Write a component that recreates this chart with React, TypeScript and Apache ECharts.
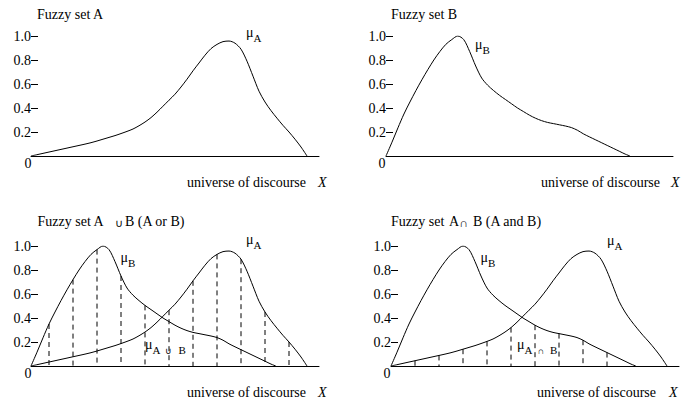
import { useEffect, useRef } from 'react';
import * as echarts from 'echarts';

// Membership functions sampled along the universe of discourse (x, μ)
const muA: [number, number][] = [
  [0, 0], [0.25, 0.011], [0.5, 0.022], [0.75, 0.033], [1, 0.044], [1.25, 0.055],
  [1.5, 0.066], [1.75, 0.077], [2, 0.088], [2.25, 0.099], [2.5, 0.111], [2.75, 0.125],
  [3, 0.14], [3.25, 0.155], [3.5, 0.17], [3.75, 0.187], [4, 0.205], [4.25, 0.225],
  [4.5, 0.252], [4.75, 0.283], [5, 0.32], [5.25, 0.365], [5.5, 0.415], [5.75, 0.465],
  [6, 0.515], [6.25, 0.575], [6.5, 0.64], [6.75, 0.71], [7, 0.775], [7.25, 0.84],
  [7.5, 0.895], [7.75, 0.93], [8, 0.953], [8.25, 0.958], [8.5, 0.94], [8.75, 0.89],
  [9, 0.79], [9.25, 0.665], [9.5, 0.54], [9.75, 0.45], [10, 0.378], [10.25, 0.315],
  [10.5, 0.255], [10.75, 0.2], [11, 0.14], [11.25, 0.075], [11.5, 0],
];

const muB: [number, number][] = [
  [0, 0], [0.25, 0.115], [0.5, 0.235], [0.75, 0.35], [1, 0.45], [1.25, 0.545],
  [1.5, 0.635], [1.75, 0.72], [2, 0.8], [2.25, 0.87], [2.5, 0.93], [2.75, 0.97],
  [3, 1.0], [3.25, 0.97], [3.5, 0.87], [3.75, 0.75], [4, 0.65], [4.25, 0.59],
  [4.5, 0.545], [4.75, 0.505], [5, 0.47], [5.25, 0.435], [5.5, 0.4], [5.75, 0.37],
  [6, 0.34], [6.25, 0.315], [6.5, 0.295], [6.75, 0.28], [7, 0.27], [7.25, 0.26],
  [7.5, 0.25], [7.75, 0.237], [8, 0.215], [8.25, 0.185], [8.5, 0.16], [8.75, 0.136],
  [9, 0.112], [9.25, 0.088], [9.5, 0.064], [9.75, 0.04], [10, 0.016], [10.2, 0],
];

// Positions of the dashed verticals that show the union and the intersection
const unionSampleX = [0.75, 1.75, 2.75, 3.75, 4.75, 5.75, 6.75, 7.75, 8.75, 9.75, 10.75];
const intersectionSampleX = [1, 2, 3, 4, 5, 6, 7, 8, 9];

// Axis ticks
const yTickValues = [0, 0.2, 0.4, 0.6, 0.8, 1.0];
const xMax = 12;

const panelTitles = ['Fuzzy set A', 'Fuzzy set B'];
const axisCaption = 'universe of discourse';
const axisSymbol = 'X';

const valueAt = (curve: [number, number][], x: number) => {
  const p = curve.find((d) => Math.abs(d[0] - x) < 1e-9);
  return p ? p[1] : 0;
};

const unionDashes = unionSampleX.map((x) => [x, Math.max(valueAt(muA, x), valueAt(muB, x))]);
const intersectionDashes = intersectionSampleX.map((x) => [x, Math.min(valueAt(muA, x), valueAt(muB, x))]);

const SERIF = '"Liberation Serif", "Times New Roman", serif';

const txt = (text: string, x: number, y: number, size = 14, extra: Record<string, unknown> = {}) => ({
  type: 'text',
  x,
  y,
  silent: true,
  style: {
    text,
    fill: '#000',
    fontSize: size,
    fontFamily: SERIF,
    align: 'left',
    verticalAlign: 'middle',
    ...extra,
  },
});

// μ with a lowered subscript, drawn as one rich text
const muRich = {
  m: { fontSize: 14, fontFamily: SERIF, fill: '#000', verticalAlign: 'bottom', padding: [0, 0, 4, 0] },
  s: { fontSize: 11, fontFamily: SERIF, fill: '#000', verticalAlign: 'bottom' },
  o: { fontSize: 9, fontFamily: SERIF, fill: '#000', verticalAlign: 'bottom', padding: [0, 6, 0, 5] },
};
const muLabel = (sub: string, x: number, y: number, op?: string, sub2?: string) => ({
  type: 'text',
  x,
  y,
  silent: true,
  style: {
    text: op ? `{m|\u03BC}{s|${sub}}{o|${op}}{s|${sub2}}` : `{m|\u03BC}{s|${sub}}`,
    rich: muRich,
    fill: '#000',
    fontSize: 14,
    fontFamily: SERIF,
    align: 'left',
    verticalAlign: 'middle',
  },
});

export default function App() {
  const ref = useRef<HTMLDivElement>(null);

  useEffect(() => {
    if (!ref.current) return;
    const chart = echarts.init(ref.current, undefined, { renderer: 'svg' });

    const grids = [
      { left: 31, top: 36, width: 288, height: 120 },
      { left: 386, top: 36, width: 287, height: 120 },
      { left: 31, top: 246, width: 288, height: 120 },
      { left: 391, top: 246, width: 288, height: 120 },
    ];

    const xAxes = grids.map((_, i) => ({
      type: 'value',
      gridIndex: i,
      min: 0,
      max: xMax,
      axisLine: { show: true, lineStyle: { color: '#000', width: 1 } },
      axisTick: { show: false },
      axisLabel: { show: false },
      splitLine: { show: false },
    }));

    const yAxes = grids.map((_, i) => ({
      type: 'value',
      gridIndex: i,
      min: yTickValues[0],
      max: yTickValues[yTickValues.length - 1],
      interval: yTickValues[1] - yTickValues[0],
      axisLine: { show: false },
      axisTick: { show: true, inside: true, length: 7, lineStyle: { color: '#000', width: 1 } },
      axisLabel: {
        show: true,
        margin: 0,
        color: '#000',
        fontSize: 14,
        fontFamily: SERIF,
        formatter: (v: number) => (v === 0 ? '' : v.toFixed(1)),
      },
      splitLine: { show: false },
    }));

    const curve = (data: [number, number][], idx: number) => ({
      type: 'line',
      xAxisIndex: idx,
      yAxisIndex: idx,
      data,
      showSymbol: false,
      symbol: 'none',
      smooth: 0.3,
      silent: true,
      lineStyle: { color: '#000', width: 1 },
    });

    const dashes = (data: number[][], idx: number) => ({
      type: 'custom',
      xAxisIndex: idx,
      yAxisIndex: idx,
      data,
      silent: true,
      renderItem: (_p: unknown, api: any) => {
        const x = api.value(0);
        const h = api.value(1);
        const top = api.coord([x, h]);
        const base = api.coord([x, 0]);
        return {
          type: 'line',
          shape: { x1: top[0], y1: top[1], x2: base[0], y2: base[1] },
          style: { stroke: '#000', lineWidth: 1, lineDash: [5, 4] },
        };
      },
    });

    const graphic = [
      // panel titles
      txt(panelTitles[0], 37, 14),
      txt(panelTitles[1], 391, 14),
      txt('Fuzzy set A', 37.5, 221),
      txt('\u222A', 115, 223, 11),
      txt('B (A or B)', 125, 221),
      txt('Fuzzy set', 391, 221),
      txt('A', 449, 221),
      txt('\u2229', 459.5, 222.5, 12),
      txt('B (A and B)', 473, 221),
      // origin labels
      txt('0', 31.5, 163, 14, { align: 'right' }),
      txt('0', 385.5, 163, 14, { align: 'right' }),
      txt('0', 31.5, 373, 14, { align: 'right' }),
      txt('0', 390.5, 373, 14, { align: 'right' }),
      // axis captions
      txt(axisCaption, 187, 182),
      txt(axisSymbol, 318, 182, 14, { fontStyle: 'italic' }),
      txt(axisCaption, 541, 182),
      txt(axisSymbol, 671, 182, 14, { fontStyle: 'italic' }),
      txt(axisCaption, 187, 392),
      txt(axisSymbol, 318, 392, 14, { fontStyle: 'italic' }),
      txt(axisCaption, 537, 392),
      txt(axisSymbol, 669, 392, 14, { fontStyle: 'italic' }),
      // membership labels
      muLabel('A', 246, 34),
      muLabel('B', 475, 46),
      muLabel('B', 120.5, 259),
      muLabel('A', 246, 241),
      muLabel('A', 145, 346, '\u222A', 'B'),
      muLabel('A', 607, 242),
      muLabel('B', 480.5, 259),
      muLabel('A', 517, 346, '\u2229', 'B'),
    ];

    chart.setOption({
      animation: false,
      backgroundColor: '#fff',
      grid: grids,
      xAxis: xAxes,
      yAxis: yAxes,
      series: [
        curve(muA, 0),
        curve(muB, 1),
        curve(muA, 2),
        curve(muB, 2),
        dashes(unionDashes, 2),
        curve(muA, 3),
        curve(muB, 3),
        dashes(intersectionDashes, 3),
      ],
      graphic,
    });

    return () => chart.dispose();
  }, []);

  return (
    <div
      ref={ref}
      style={{ position: 'fixed', left: 0, top: 0, width: 697, height: 399, background: '#fff' }}
    />
  );
}
